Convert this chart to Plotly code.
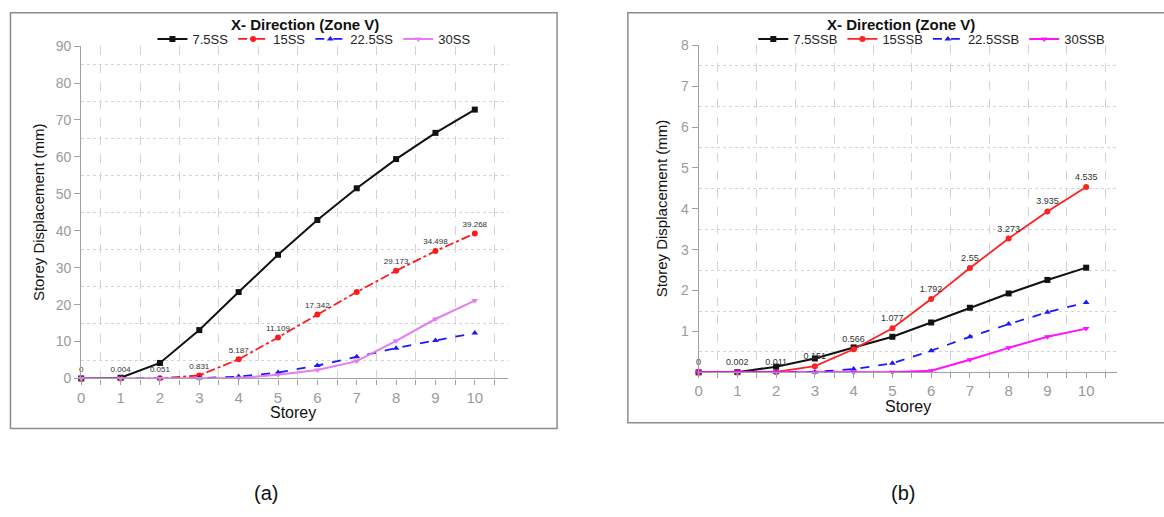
import plotly.graph_objects as go

W, H = 1164, 517

# ---------------- data ----------------
storeys = list(range(11))

# panel (a)
ss_75 = [0, 0.2, 4.2, 13.1, 23.4, 33.5, 42.9, 51.5, 59.4, 66.5, 72.8]
ss_15 = [0, 0.004, 0.051, 0.831, 5.187, 11.109, 17.342, 23.4, 29.173, 34.498, 39.268]
ss_225 = [0, 0, 0, 0.1, 0.5, 1.6, 3.5, 5.9, 8.2, 10.3, 12.3]
ss_30 = [0, 0, 0, 0, 0.1, 1.0, 2.3, 4.7, 10.2, 16.1, 21.1]
ss_15_labels = ["0", "0.004", "0.051", "0.831", "5.187", "11.109", "17.342", "",
                "29.173", "34.498", "39.268"]

# panel (b)
ssb_75 = [0, 0.005, 0.14, 0.34, 0.61, 0.87, 1.22, 1.58, 1.93, 2.26, 2.56]
ssb_15 = [0, 0.002, 0.011, 0.151, 0.566, 1.077, 1.792, 2.55, 3.273, 3.935, 4.535]
ssb_225 = [0, 0, 0, 0.01, 0.08, 0.22, 0.53, 0.87, 1.18, 1.47, 1.71]
ssb_30 = [0, 0, 0, 0, 0, 0, 0.04, 0.31, 0.6, 0.87, 1.07]
ssb_15_labels = ["0", "0.002", "0.011", "0.151", "0.566", "1.077", "1.792", "2.55",
                 "3.273", "3.935", "4.535"]

x_ticks = list(range(11))
ya_ticks = list(range(0, 91, 10))
yb_ticks = list(range(1, 9))

title_text = "<b>X- Direction (Zone V)</b>"

# ---------------- helpers ----------------
def px(x):
    return x / W

def py(y):
    return 1 - y / H

FONT = "Liberation Sans, Arial, sans-serif"
TICK_COL = "#9a9a9a"
AXIS_COL = "#a0a0a0"
GRID_COL = "#d4d4d4"

fig = go.Figure()

def add(x, y, name, color, dash, symbol, width, xa, ya, legend, text=None, tsize=8):
    fig.add_trace(go.Scatter(
        x=x, y=y, name=name,
        mode="lines+markers+text" if text else "lines+markers",
        text=text, textposition="top center",
        textfont=dict(size=tsize, color="#333333", family=FONT),
        line=dict(color=color, dash=dash, width=width),
        marker=dict(symbol=symbol, size=6, color=color),
        xaxis=xa, yaxis=ya, legend=legend, cliponaxis=False,
    ))

add(storeys, ss_75, "7.5SS", "#111111", "solid", "square", 2, "x", "y", "legend")
add(storeys, ss_15, "15SS", "#ff1a1a", "dashdot", "circle", 1.8, "x", "y", "legend", ss_15_labels, 8)
add(storeys, ss_225, "22.5SS", "#1a1aff", "dash", "triangle-up", 1.8, "x", "y", "legend")
add(storeys, ss_30, "30SS", "#e67cf0", "solid", "triangle-down", 2, "x", "y", "legend")

add(storeys, ssb_75, "7.5SSB", "#111111", "solid", "square", 2, "x2", "y2", "legend2")
add(storeys, ssb_15, "15SSB", "#ff2222", "solid", "circle", 1.8, "x2", "y2", "legend2", ssb_15_labels, 9)
add(storeys, ssb_225, "22.5SSB", "#1a1aff", "dash", "triangle-up", 1.8, "x2", "y2", "legend2")
add(storeys, ssb_30, "30SSB", "#ff11ff", "solid", "triangle-down", 2, "x2", "y2", "legend2")

def xaxis(domain, rng):
    return dict(
        domain=domain, range=rng, tickvals=x_ticks, showgrid=False, zeroline=False,
        showline=True, linecolor=AXIS_COL, linewidth=1.2,
        ticks="outside", ticklen=5, tickcolor=AXIS_COL,
        tickfont=dict(size=15, color=TICK_COL, family=FONT),
        minor=dict(tick0=0.5, dtick=1, showgrid=True, gridcolor=GRID_COL,
                   griddash="dash", gridwidth=1, ticks="outside", ticklen=5,
                   tickcolor=AXIS_COL),
        fixedrange=True,
    )

def yaxis(domain, rng, tickvals, anchor):
    return dict(
        domain=domain, range=rng, tickvals=tickvals, showgrid=False, zeroline=False,
        showline=True, linecolor=AXIS_COL, linewidth=1.2, anchor=anchor,
        ticks="outside", ticklen=6, tickcolor=AXIS_COL,
        tickfont=dict(size=14, color=TICK_COL, family=FONT),
        minor=dict(tick0=0.5 if rng[1] < 20 else 5, dtick=1 if rng[1] < 20 else 10,
                   showgrid=True, gridcolor=GRID_COL, griddash="dot", gridwidth=1),
        fixedrange=True,
    )

fig.update_layout(
    width=W, height=H,
    margin=dict(l=0, r=0, t=0, b=0),
    paper_bgcolor="white", plot_bgcolor="white",
    font=dict(family=FONT, color="#222222"),
    xaxis=xaxis([px(77.5), px(506)], [0, 10.85]) | dict(anchor="y"),
    yaxis=yaxis([py(382.3), py(39.3)], [0, 90], ya_ticks, "x"),
    xaxis2=xaxis([px(697), px(1117)], [0, 10.8]) | dict(anchor="y2"),
    yaxis2=yaxis([py(376), py(38.4)], [0, 8], yb_ticks, "x2"),
    legend=dict(orientation="h", x=px(311), y=py(32), xanchor="center", yanchor="middle",
                font=dict(size=13, color="#222222", family=FONT),
                bgcolor="rgba(0,0,0,0)", itemwidth=30, tracegroupgap=0),
    legend2=dict(orientation="h", x=px(931), y=py(32), xanchor="center", yanchor="middle",
                 font=dict(size=13, color="#222222", family=FONT),
                 bgcolor="rgba(0,0,0,0)", itemwidth=30, tracegroupgap=0),
    showlegend=True,
)

# frames around each panel
fig.add_shape(type="rect", xref="paper", yref="paper",
              x0=px(6.5), x1=px(555), y0=py(434), y1=py(5),
              line=dict(color="#8c8c8c", width=1.5))
fig.add_shape(type="rect", xref="paper", yref="paper",
              x0=px(626), x1=px(1172), y0=py(428), y1=py(5),
              line=dict(color="#8c8c8c", width=1.5))

ann = [
    dict(x=px(302), y=py(17), text=title_text, font=dict(size=15, color="#111111")),
    dict(x=px(900), y=py(17), text=title_text, font=dict(size=15, color="#111111")),
    dict(x=px(290), y=py(417), text="Storey", font=dict(size=16, color="#111111")),
    dict(x=px(907), y=py(411), text="Storey", font=dict(size=16, color="#111111")),
    dict(x=px(34), y=py(210.7), text="Storey Displacement (mm)", textangle=-90,
         font=dict(size=15, color="#111111")),
    dict(x=px(660), y=py(207), text="Storey Displacement (mm)", textangle=-90,
         font=dict(size=15, color="#111111")),
    dict(x=px(263), y=py(500), text="(a)", font=dict(size=20, color="#111111")),
    dict(x=px(902), y=py(500), text="(b)", font=dict(size=20, color="#111111")),
]
for a in ann:
    fig.add_annotation(xref="paper", yref="paper", showarrow=False,
                       xanchor="center", yanchor="middle", **a)

fig.write_html(
    "out.html",
    config={"displayModeBar": False},
    post_script="document.body.style.margin='0';document.body.style.overflow='hidden';",
)
